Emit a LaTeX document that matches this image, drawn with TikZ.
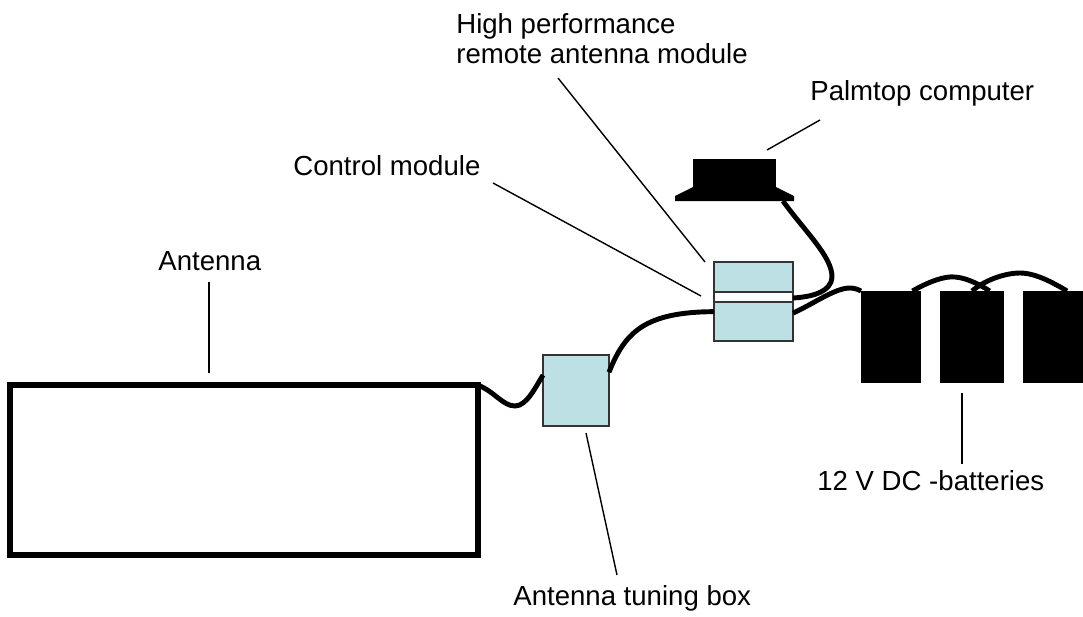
\documentclass[tikz,border=0pt]{standalone}
\usepackage{fontspec}
\setmainfont{Liberation Sans}
\definecolor{boxblue}{RGB}{189,224,228}
\definecolor{boxline}{RGB}{51,51,51}

\begin{document}
\begin{tikzpicture}[
		x=0.02cm, y=-0.02cm,
		lbl/.style={inner sep=0, anchor=base west, font=\fontsize{15.7}{18}\selectfont},
		unit/.style={rectangle, draw=boxline, fill=boxblue, line width=0.85pt, inner sep=0, outer sep=0},
		bat/.style={rectangle, fill=black, inner sep=0, outer sep=0, minimum height=1.84cm},
		cable/.style={line width=2.8pt},
		lead/.style={line width=0.8pt}
		]
		\useasboundingbox (0,0) rectangle (1083,616);
		
		%Units
		\node[rectangle, draw, line width=3.3pt, minimum width=9.36cm, minimum height=3.4cm, inner sep=0, outer sep=0] (ant) at (244,470) {};
		\node[unit, minimum width=1.32cm, minimum height=1.42cm] (tune) at (576,390.5) {};
		\node[unit, fill=white, minimum width=1.58cm, minimum height=1.58cm] (mod) at (753.5,301.5) {};
		\node[unit, minimum width=1.58cm, minimum height=0.6cm]  (modtop) at (753.5,277) {};
		\node[unit, minimum width=1.58cm, minimum height=0.78cm] (modbot) at (753.5,321.5) {};
		\node[rectangle, fill=black, minimum width=1.66cm, minimum height=0.56cm, inner sep=0, outer sep=0] (palm) at (734.5,173) {};
		\fill (palm.south west) -- (675,196) -- (675,201) -- (794,201) -- (794,196) -- (palm.south east) -- cycle;
		\coordinate (palmplug) at (783,201);
		\node[bat, minimum width=1.2cm]  (bat1) at (891,337) {};
		\node[bat, minimum width=1.28cm] (bat2) at (972,337) {};
		\node[bat, minimum width=1.2cm]  (bat3) at (1053,337) {};
		
		%Cables
		\draw[cable] (ant.north east) .. controls (495,392) and (503,406) .. (515,406) .. controls (527,406) and (536,386) .. (tune.155);
		\draw[cable] (tune.29) .. controls (625,332) and (645,312) .. (modbot.166);
		\draw[cable] (palmplug) .. controls (805,232) and (838,262) .. (831,282) .. controls (826,294) and (808,297) .. (mod.5);
		\draw[cable] (modbot.12) .. controls (815,303) and (835,288) .. (850,288) .. controls (855,288) and (859,290) .. (bat1.north west);
		\draw[cable] (bat1.65) .. controls (930,281) and (945,276) .. (955,277) .. controls (968,278) and (982,286) .. (bat2.69);
		\draw[cable] (bat2.north) .. controls (985,280) and (1005,273) .. (1020,273) .. controls (1035,273) and (1052,282) .. (bat3.73);
		
		%Labels
		\node[lbl] (lblhp)   at (456,33)  {High performance};
		\node[lbl] (lblhp2)  at (456,63)  {remote antenna module};
		\node[lbl] (lblpalm) at (810,100) {Palmtop computer};
		\node[lbl] (lblctl)  at (293,175) {Control module};
		\node[lbl] (lblant)  at (158,270) {Antenna};
		\node[lbl] (lblbat)  at (817,490) {12 V DC -batteries};
		\node[lbl] (lbltune) at (513,605) {Antenna tuning box};
		
		%Leader lines
		\coordinate (hpA)   at (558,78);  \coordinate (hpB)   at (705,262);
		\coordinate (palmA) at (820,120); \coordinate (palmB) at (767,150);
		\coordinate (ctlA)  at (493,183); \coordinate (ctlB)  at (701,296);
		\coordinate (antA)  at (209,282); \coordinate (antB)  at (209,373);
		\coordinate (batA)  at (962,393); \coordinate (batB)  at (962,464);
		\coordinate (tunA)  at (586,433); \coordinate (tunB)  at (617,575);
		\draw[lead] (hpA) -- (hpB);
		\draw[lead] (palmA) -- (palmB);
		\draw[lead] (ctlA) -- (ctlB);
		\draw[lead] (antA) -- (antB);
		\draw[lead] (batA) -- (batB);
		\draw[lead] (tunA) -- (tunB);
		
	\end{tikzpicture}
\end{document}
